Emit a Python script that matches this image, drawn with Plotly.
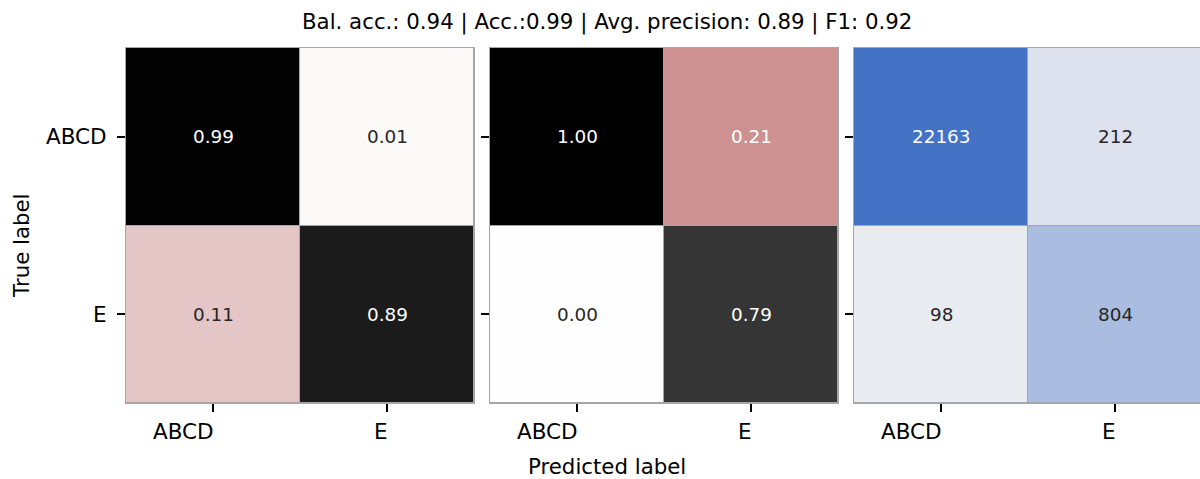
import plotly.graph_objects as go
import numpy as np

# Class names and confusion-matrix values
classes = ["ABCD", "E"]
recall_matrix = [[0.99, 0.01], [0.11, 0.89]]
precision_matrix = [[1.00, 0.21], [0.00, 0.79]]
count_matrix = [[22163, 212], [98, 804]]
summary_title = "Bal. acc.: 0.94 | Acc.:0.99 | Avg. precision: 0.89 | F1: 0.92"

W, H = 1200, 479
FONT = "DejaVu Sans"
EDGE = "#a6a6a6"
DARK_TEXT = "#262626"

# white -> rose -> black scale for the normalised matrices
rose_scale = [
    [0.00, "rgb(254,254,254)"],
    [0.11, "rgb(228,198,198)"],
    [0.21, "rgb(205,145,145)"],
    [0.50, "rgb(125,104,104)"],
    [0.79, "rgb(53,53,53)"],
    [0.89, "rgb(27,27,27)"],
    [1.00, "rgb(0,0,0)"],
]
# pale grey -> blue scale for counts (log scaled)
blue_scale = [
    [0.00, "rgb(232,235,240)"],
    [0.14, "rgb(222,226,238)"],
    [0.39, "rgb(170,188,223)"],
    [1.00, "rgb(68,114,196)"],
]

def px_x(p):
    return p / W

def px_y(p):
    return 1 - p / H

fig = go.Figure()

log_counts = np.log10(np.array(count_matrix, dtype=float))

panels = [
    (recall_matrix, rose_scale, 0, 1, "x", "y", lambda v: f"{v:.2f}", lambda v: v > 0.5),
    (precision_matrix, rose_scale, 0, 1, "x2", "y2", lambda v: f"{v:.2f}", lambda v: v > 0.15),
    (log_counts.tolist(), blue_scale, log_counts.min(), log_counts.max(), "x3", "y3", None, None),
]

tick_font = dict(family=FONT, size=21.5, color="black")

for i, (z, scale, zmin, zmax, xa, ya, fmt, light) in enumerate(panels):
    fig.add_trace(go.Heatmap(
        z=z, x=classes, y=classes, colorscale=scale, zmin=zmin, zmax=zmax,
        showscale=False, xgap=1, ygap=1, xaxis=xa, yaxis=ya, hoverinfo="skip",
    ))
    for r, row_name in enumerate(classes):
        for c, col_name in enumerate(classes):
            if i < 2:
                v = z[r][c]
                txt = fmt(v)
                col = "white" if light(v) else DARK_TEXT
            else:
                v = count_matrix[r][c]
                txt = str(v)
                col = "white" if v > 5000 else DARK_TEXT
            fig.add_annotation(
                x=col_name, y=row_name, xref=xa, yref=ya, text=txt,
                showarrow=False, font=dict(family=FONT, size=18.4, color=col),
            )
    # x tick labels, right-aligned to their tick marks
    for name in classes:
        fig.add_annotation(
            x=name, xref=xa, y=px_y(431), yref="paper", text=name,
            showarrow=False, xanchor="right", yanchor="middle", xshift=3,
            font=tick_font,
        )

y_dom = [px_y(403), px_y(48)]
x_doms = [[px_x(126), px_x(474)], [px_x(490), px_x(838)], [px_x(854), 1.0]]
x_ranges = [[-0.5, 1.5], [-0.5, 1.5], [-0.5, -0.5 + 346 / 174]]

for i in range(3):
    sfx = "" if i == 0 else str(i + 1)
    fig.layout["xaxis" + sfx] = dict(
        domain=x_doms[i], range=x_ranges[i], anchor="y" + sfx,
        showline=True, linecolor=EDGE, linewidth=1, mirror=True,
        ticks="outside", ticklen=8, tickwidth=1.5, tickcolor="black",
        showticklabels=False, showgrid=False, zeroline=False,
        tickmode="array", tickvals=classes,
    )
    fig.layout["yaxis" + sfx] = dict(
        domain=y_dom, range=[1.5, -0.5], anchor="x" + sfx,
        showline=True, linecolor=EDGE, linewidth=1, mirror=(i < 2),
        ticks="outside", ticklen=8, tickwidth=1.5, tickcolor="black",
        tickfont=tick_font, ticklabelstandoff=6, showgrid=False, zeroline=False,
        showticklabels=(i == 0), tickmode="array", tickvals=classes, ticktext=classes,
    )

# Title and shared axis titles
fig.add_annotation(x=px_x(607), y=px_y(22), xref="paper", yref="paper",
                   text=summary_title, showarrow=False,
                   font=dict(family=FONT, size=21.3, color="black"),
                   xanchor="center", yanchor="middle")
fig.add_annotation(x=px_x(607), y=px_y(466), xref="paper", yref="paper",
                   text="Predicted label", showarrow=False,
                   font=dict(family=FONT, size=21.3, color="black"),
                   xanchor="center", yanchor="middle")
fig.add_annotation(x=px_x(21), y=px_y(246), xref="paper", yref="paper",
                   text="True label", showarrow=False, textangle=-90,
                   font=dict(family=FONT, size=21.3, color="black"),
                   xanchor="center", yanchor="middle")

fig.update_layout(
    width=W, height=H, margin=dict(l=0, r=0, t=0, b=0),
    paper_bgcolor="white", plot_bgcolor=EDGE, showlegend=False,
)

fig.write_html("out.html")
